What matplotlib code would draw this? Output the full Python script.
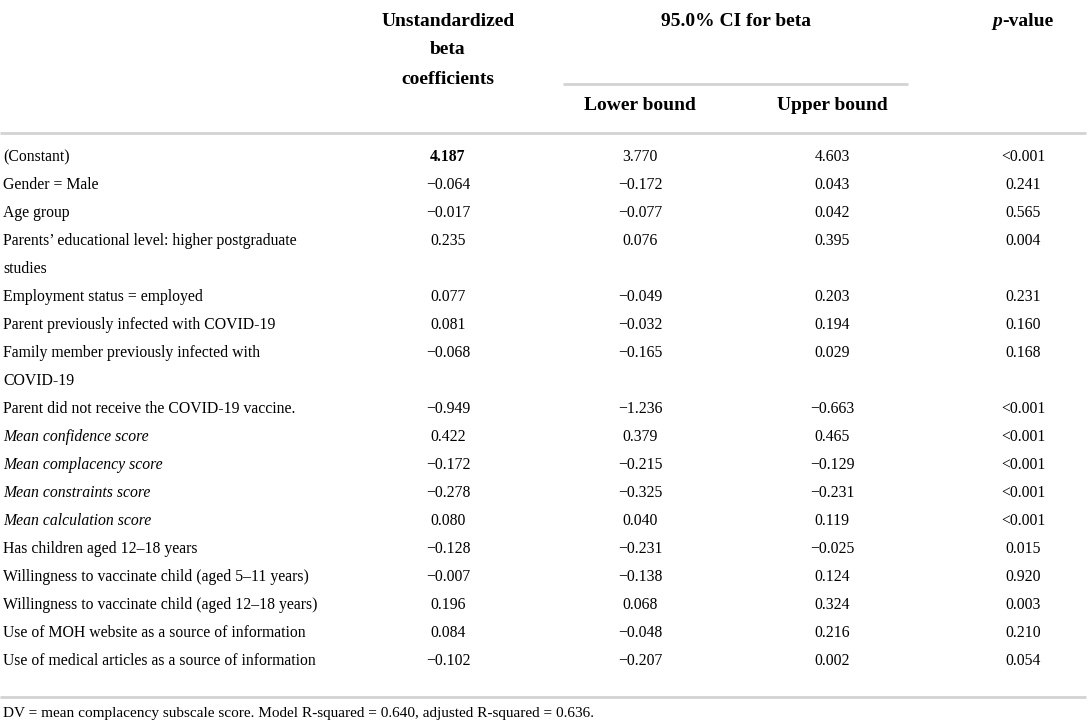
import matplotlib
matplotlib.use("Agg")
import matplotlib.pyplot as plt

plt.rcParams['font.family'] = ['Liberation Serif', 'DejaVu Serif']

variables = [
    "(Constant)",
    "Gender = Male",
    "Age group",
    "Parents\u2019 educational level: higher postgraduate\nstudies",
    "Employment status = employed",
    "Parent previously infected with COVID-19",
    "Family member previously infected with\nCOVID-19",
    "Parent did not receive the COVID-19 vaccine.",
    "Mean confidence score",
    "Mean complacency score",
    "Mean constraints score",
    "Mean calculation score",
    "Has children aged 12\u201318 years",
    "Willingness to vaccinate child (aged 5\u201311 years)",
    "Willingness to vaccinate child (aged 12\u201318 years)",
    "Use of MOH website as a source of information",
    "Use of medical articles as a source of information",
]
italic_rows = [8, 9, 10, 11]
beta = ["4.187", "\u22120.064", "\u22120.017", "0.235", "0.077", "0.081", "\u22120.068",
        "\u22120.949", "0.422", "\u22120.172", "\u22120.278", "0.080", "\u22120.128",
        "\u22120.007", "0.196", "0.084", "\u22120.102"]
lower = ["3.770", "\u22120.172", "\u22120.077", "0.076", "\u22120.049", "\u22120.032", "\u22120.165",
         "\u22121.236", "0.379", "\u22120.215", "\u22120.325", "0.040", "\u22120.231",
         "\u22120.138", "0.068", "\u22120.048", "\u22120.207"]
upper = ["4.603", "0.043", "0.042", "0.395", "0.203", "0.194", "0.029",
         "\u22120.663", "0.465", "\u22120.129", "\u22120.231", "0.119", "\u22120.025",
         "0.124", "0.324", "0.216", "0.002"]
pval = ["<0.001", "0.241", "0.565", "0.004", "0.231", "0.160", "0.168",
        "<0.001", "<0.001", "<0.001", "<0.001", "<0.001", "0.015",
        "0.920", "0.003", "0.210", "0.054"]
bold_cells = [(0, 0)]  # (row, col) -> beta of constant
footnote = "DV = mean complacency subscale score. Model R-squared = 0.640, adjusted R-squared = 0.636."

W, H = 1089, 724
fig = plt.figure(figsize=(W / 100, H / 100), dpi=100)
ax = fig.add_axes([0, 0, 1, 1])
ax.set_xlim(0, W)
ax.set_ylim(H, 0)
ax.axis('off')

fs = 11.3
hfs = 14
col_x = [448, 640, 832, 1023]
line_col = '#d3d3d3'

# headers
for i, t in enumerate(["Unstandardized", "beta", "coefficients"]):
    ax.text(col_x[0], 21 + i * 29, t, ha='center', va='center', fontsize=hfs, fontweight='bold')
ax.text(736, 21, "95.0% CI for beta", ha='center', va='center', fontsize=hfs, fontweight='bold')
ax.text(1002, 21, "p", ha='right', va='center', fontsize=hfs, fontweight='bold', fontstyle='italic')
ax.text(1002, 21, "-value", ha='left', va='center', fontsize=hfs, fontweight='bold')
ax.text(col_x[1], 105, "Lower bound", ha='center', va='center', fontsize=hfs, fontweight='bold')
ax.text(col_x[2], 105, "Upper bound", ha='center', va='center', fontsize=hfs, fontweight='bold')

ax.plot([563, 908], [84, 84], color=line_col, lw=2, solid_capstyle='butt')
ax.plot([0, W - 3], [133, 133], color=line_col, lw=2, solid_capstyle='butt')

# rows
y = 157
step = 28
for r, name in enumerate(variables):
    style = 'italic' if r in italic_rows else 'normal'
    lines = name.split("\n")
    for k, ln in enumerate(lines):
        ax.text(3, y + k * step, ln, ha='left', va='center', fontsize=fs, fontstyle=style)
    for c, vals in enumerate([beta, lower, upper, pval]):
        wt = 'bold' if (r, c) in bold_cells else 'normal'
        ax.text(col_x[c], y, vals[r], ha='center', va='center', fontsize=fs, fontweight=wt)
    y += step * len(lines)

ax.plot([0, W - 3], [697, 697], color=line_col, lw=2, solid_capstyle='butt')
ax.text(3, 713, footnote, ha='left', va='center', fontsize=11)

fig.savefig("out.png", dpi=100)
